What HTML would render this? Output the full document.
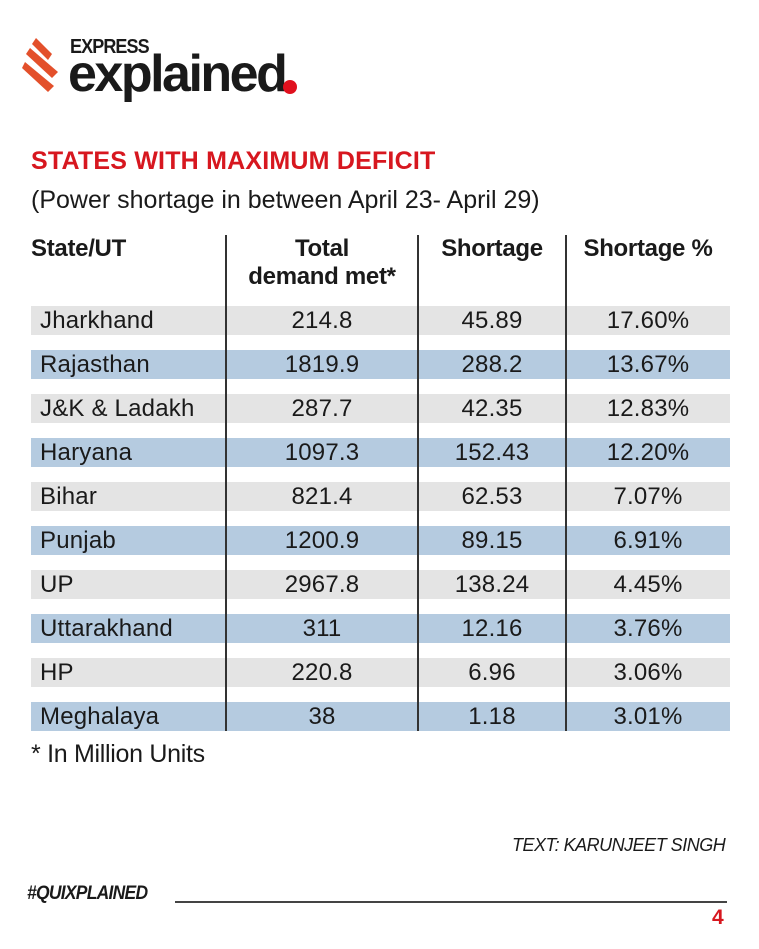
<!DOCTYPE html>
<html><head><meta charset="utf-8"><style>
*{margin:0;padding:0;box-sizing:border-box}
body{width:759px;height:949px;background:#fff;position:relative;overflow:hidden;font-family:"Liberation Sans",sans-serif;color:#1a1a1a}
.a{position:absolute;white-space:nowrap}
.band{position:absolute;left:31px;width:699px;height:29px}
.g{background:#e4e4e4}.b{background:#b5cbe0}
.vl{position:absolute;top:235px;width:1.5px;height:496px;background:#333}
.row{position:absolute;left:0;width:759px;height:29px;font-size:24px;line-height:29px;letter-spacing:0.2px}
.row span{position:absolute;top:0}
.c1{left:40px}.c2{left:226px;width:192px;text-align:center}.c3{left:418px;width:148px;text-align:center}.c4{left:566px;width:164px;text-align:center}
.h{font-weight:bold;font-size:24px;letter-spacing:-0.3px;line-height:28px}
</style></head><body>
<svg class="a" style="left:22px;top:38px" width="44" height="56" viewBox="0 0 44 56">
<g fill="#e3502b">
<path d="M14 0 L30 16 L26 22 L10 6 Z"/>
<path d="M8 10 L36 34 L30 40 L4 16 Z"/>
<path d="M3 24 L32 48 L26 54 L0 30 Z"/>
</g></svg>
<div class="a" style="left:70px;top:36px;font-size:20px;font-weight:bold;letter-spacing:-1px;transform:scaleX(0.9);transform-origin:left">EXPRESS</div>
<div class="a" style="left:68px;top:44px;font-size:52px;font-weight:bold;letter-spacing:-2.5px;line-height:60px">explained</div>
<div class="a" style="left:283px;top:80px;width:14px;height:14px;border-radius:50%;background:#e0101e"></div>
<div class="a" style="left:31px;top:147px;font-size:25px;font-weight:bold;color:#d7171f;letter-spacing:0.2px">STATES WITH MAXIMUM DEFICIT</div>
<div class="a" style="left:31px;top:186px;font-size:25px;letter-spacing:0px">(Power shortage in between April 23- April 29)</div>
<div class="a h" style="left:31px;top:235px">State/UT</div>
<div class="a h" style="left:226px;top:235px;width:192px;text-align:center">Total<br>demand met*</div>
<div class="a h" style="left:418px;top:235px;width:148px;text-align:center">Shortage</div>
<div class="a h" style="left:566px;top:235px;width:164px;text-align:center">Shortage %</div>
<div class="band g" style="top:306px"></div>
<div class="band b" style="top:350px"></div>
<div class="band g" style="top:394px"></div>
<div class="band b" style="top:438px"></div>
<div class="band g" style="top:482px"></div>
<div class="band b" style="top:526px"></div>
<div class="band g" style="top:570px"></div>
<div class="band b" style="top:614px"></div>
<div class="band g" style="top:658px"></div>
<div class="band b" style="top:702px"></div>
<div class="vl" style="left:225px"></div><div class="vl" style="left:417px"></div><div class="vl" style="left:565px"></div>
<div class="row" style="top:306px"><span class="c1">Jharkhand</span><span class="c2">214.8</span><span class="c3">45.89</span><span class="c4">17.60%</span></div>
<div class="row" style="top:350px"><span class="c1">Rajasthan</span><span class="c2">1819.9</span><span class="c3">288.2</span><span class="c4">13.67%</span></div>
<div class="row" style="top:394px"><span class="c1">J&amp;K &amp; Ladakh</span><span class="c2">287.7</span><span class="c3">42.35</span><span class="c4">12.83%</span></div>
<div class="row" style="top:438px"><span class="c1">Haryana</span><span class="c2">1097.3</span><span class="c3">152.43</span><span class="c4">12.20%</span></div>
<div class="row" style="top:482px"><span class="c1">Bihar</span><span class="c2">821.4</span><span class="c3">62.53</span><span class="c4">7.07%</span></div>
<div class="row" style="top:526px"><span class="c1">Punjab</span><span class="c2">1200.9</span><span class="c3">89.15</span><span class="c4">6.91%</span></div>
<div class="row" style="top:570px"><span class="c1">UP</span><span class="c2">2967.8</span><span class="c3">138.24</span><span class="c4">4.45%</span></div>
<div class="row" style="top:614px"><span class="c1">Uttarakhand</span><span class="c2">311</span><span class="c3">12.16</span><span class="c4">3.76%</span></div>
<div class="row" style="top:658px"><span class="c1">HP</span><span class="c2">220.8</span><span class="c3">6.96</span><span class="c4">3.06%</span></div>
<div class="row" style="top:702px"><span class="c1">Meghalaya</span><span class="c2">38</span><span class="c3">1.18</span><span class="c4">3.01%</span></div>
<div class="a" style="left:31px;top:740px;font-size:25px;letter-spacing:-0.3px">* In Million Units</div>
<div class="a" style="left:512px;top:835px;font-size:18px;font-style:italic;letter-spacing:-0.5px">TEXT: KARUNJEET SINGH</div>
<div class="a" style="left:27px;top:883px;font-size:19px;font-style:italic;font-weight:bold;letter-spacing:-0.8px;transform:scaleX(0.92);transform-origin:left">#QUIXPLAINED</div>
<div class="a" style="left:175px;top:901px;width:552px;height:2px;background:#444"></div>
<div class="a" style="left:712px;top:906px;font-size:21px;font-weight:bold;color:#d7171f">4</div>
</body></html>
